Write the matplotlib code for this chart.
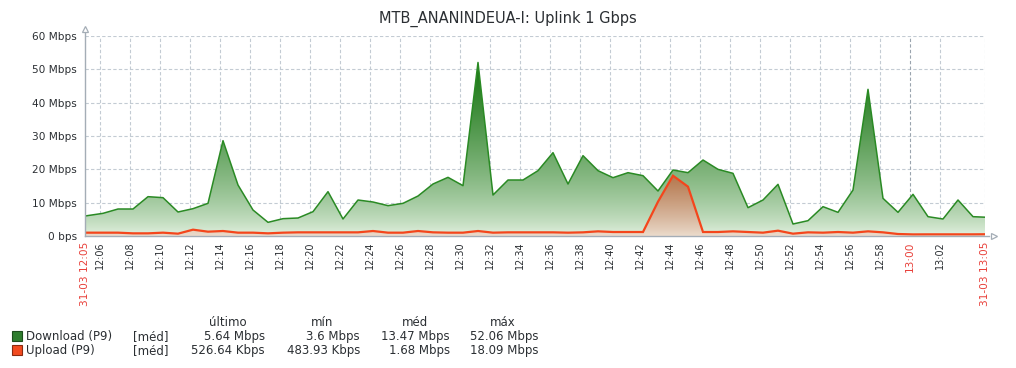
import numpy as np
import matplotlib
matplotlib.use("Agg")
import matplotlib.pyplot as plt
from matplotlib.patches import PathPatch, Rectangle
from matplotlib.path import Path
from matplotlib.transforms import blended_transform_factory

W, H = 1016, 368

# per-minute samples, 12:05 .. 13:05 (Mbps)
download = [6.0, 6.8, 8.1, 8.1, 11.8, 11.5, 7.2, 8.2, 9.8, 28.6,
            15.3, 7.8, 4.1, 5.2, 5.4, 7.3, 13.3, 5.1, 10.8, 10.2,
            9.1, 9.8, 12.0, 15.6, 17.6, 15.1, 52.06, 12.3, 16.8, 16.8,
            19.6, 25.0, 15.6, 24.1, 19.6, 17.5, 19.0, 18.1, 13.5, 19.8,
            19.0, 22.8, 20.0, 18.8, 8.5, 10.8, 15.5, 3.6, 4.6, 8.8,
            7.1, 13.8, 44.0, 11.3, 7.1, 12.5, 5.8, 5.1, 10.8, 5.8,
            5.64]
upload = [1.0, 1.0, 1.0, 0.8, 0.8, 1.0, 0.7, 1.9, 1.3, 1.5,
          1.0, 1.0, 0.8, 1.0, 1.1, 1.1, 1.1, 1.1, 1.1, 1.5,
          1.0, 1.0, 1.5, 1.1, 1.0, 1.0, 1.5, 1.0, 1.1, 1.1,
          1.1, 1.1, 1.0, 1.1, 1.4, 1.2, 1.2, 1.2, 10.3, 18.09,
          14.8, 1.2, 1.2, 1.4, 1.2, 1.0, 1.6, 0.7, 1.1, 1.0,
          1.2, 1.0, 1.4, 1.1, 0.6, 0.484, 0.5, 0.5, 0.5, 0.5,
          0.527]

y_ticks = [0, 10, 20, 30, 40, 50, 60]
y_labels = ["0 bps", "10 Mbps", "20 Mbps", "30 Mbps", "40 Mbps", "50 Mbps", "60 Mbps"]
x_minutes = list(range(1, 58, 2))
x_labels = [f"{(5 + m) // 60 + 12}:{(5 + m) % 60:02d}" for m in x_minutes]
edge_labels = ["31-03 12:05", "31-03 13:05"]

title = "MTB_ANANINDEUA-I: Uplink 1 Gbps"
legend_names = ["Download (P9)", "Upload (P9)"]
legend_cols = ["último", "mín", "méd", "máx"]
legend_vals = [["5.64 Mbps", "3.6 Mbps", "13.47 Mbps", "52.06 Mbps"],
               ["526.64 Kbps", "483.93 Kbps", "1.68 Mbps", "18.09 Mbps"]]

t = np.arange(len(download), dtype=float)
t[1:-1] += 0.2

TXT = "#2b2f33"
GRID = "#c3cbd3"
AXC = "#a4adb6"

fig = plt.figure(figsize=(W / 100, H / 100), dpi=100)
ax = fig.add_axes([85 / W, 1 - 236 / H, 900 / W, 200 / H])


def gradient_area(x, y, c_lo, c_hi, vmax, z, power):
    verts = np.column_stack([np.r_[x[0], x, x[-1]], np.r_[0, y, 0]])
    patch = PathPatch(Path(verts), transform=ax.transData,
                      facecolor="none", edgecolor="none")
    ax.add_patch(patch)
    g = np.linspace(0, 1, 256) ** power
    c_lo = np.array(c_lo) / 255
    c_hi = np.array(c_hi) / 255
    img = (c_lo[None, :] * (1 - g[:, None]) + c_hi[None, :] * g[:, None])[:, None, :]
    im = ax.imshow(img, extent=[0, 60, 0, vmax], origin="lower",
                   aspect="auto", zorder=z, interpolation="bilinear")
    im.set_clip_path(patch)


gradient_area(t, download, (232, 244, 230), (22, 116, 16), 52.06, 2, 0.7)
ax.plot(t, download, color="#2a8a24", lw=1.1, zorder=3)
gradient_area(t, upload, (236, 221, 206), (180, 118, 76), 18.09, 4, 0.85)
ax.plot(t, upload, color="#f4461c", lw=1.6, zorder=5, solid_joinstyle="miter")

ax.set_xlim(0, 60)
ax.set_ylim(0, 60)

# grid
for v in y_ticks[1:]:
    ax.axhline(v, color=GRID, lw=0.8, ls=(0, (3, 2)), zorder=1)
for m in x_minutes + [60]:
    c = "#9aa4ae" if m == 55 else GRID
    ax.axvline(m, color=c, lw=0.8, ls=(0, (3, 2)), zorder=1)

for s in ax.spines.values():
    s.set_visible(False)

# axes with arrow heads
ax.plot([0, 0], [0, 61.4], color=AXC, lw=1.0, clip_on=False, zorder=6)
ax.plot([0, 60.3], [0, 0], color=AXC, lw=1.0, clip_on=False, zorder=6)
ax.plot([0], [62.2], marker="^", ms=5, mfc="white", mec=AXC, mew=0.9,
        clip_on=False, zorder=6)
ax.plot([60.6], [0], marker=">", ms=5, mfc="white", mec=AXC, mew=0.9,
        clip_on=False, zorder=6)

ax.set_yticks(y_ticks, y_labels)
ax.tick_params(axis="y", length=0, pad=6, labelsize=7.6, labelcolor=TXT)
ax.set_xticks([])

tr = blended_transform_factory(ax.transData, ax.transAxes)
for m, lab in zip(x_minutes, x_labels):
    red = m == 55
    ax.text(m, -0.027, lab, transform=tr, rotation=90, ha="center", va="top",
            fontsize=7.6 if red else 6.9, color="#e8403a" if red else TXT)
for m, lab in zip([0, 60], edge_labels):
    ax.text(m, -0.027, lab, transform=tr, rotation=90, ha="center", va="top",
            fontsize=7.6, color="#e8403a")

fig.text(508 / W, 1 - 19 / H, title, ha="center", va="center",
         fontsize=10.5, color=TXT)

# legend block
def fy(py):
    return 1 - py / H


col_right = [265, 360, 450, 538]
col_center = [228, 322, 415, 503]
for c, name in zip(col_center, legend_cols):
    fig.text(c / W, fy(326), name, ha="center", va="baseline", fontsize=8.5, color=TXT)

sq_colors = [("#2e7d2e", "#1d4d1d"), ("#f24a1f", "#8a2a10")]
for r, (name, vals) in enumerate(zip(legend_names, legend_vals)):
    base = 340 + 14 * r
    fc, ec = sq_colors[r]
    fig.add_artist(Rectangle((12 / W, fy(base + 1)), 10 / W, 10 / H,
                             transform=fig.transFigure, facecolor=fc,
                             edgecolor=ec, lw=0.8))
    fig.text(26 / W, fy(base), name, ha="left", va="baseline", fontsize=8.5, color=TXT)
    fig.text(133 / W, fy(base), "[méd]", ha="left", va="baseline", fontsize=8.5, color=TXT)
    for xr, v in zip(col_right, vals):
        fig.text(xr / W, fy(base), v, ha="right", va="baseline", fontsize=8.5, color=TXT)

fig.savefig("out.png", dpi=100, facecolor="white")
